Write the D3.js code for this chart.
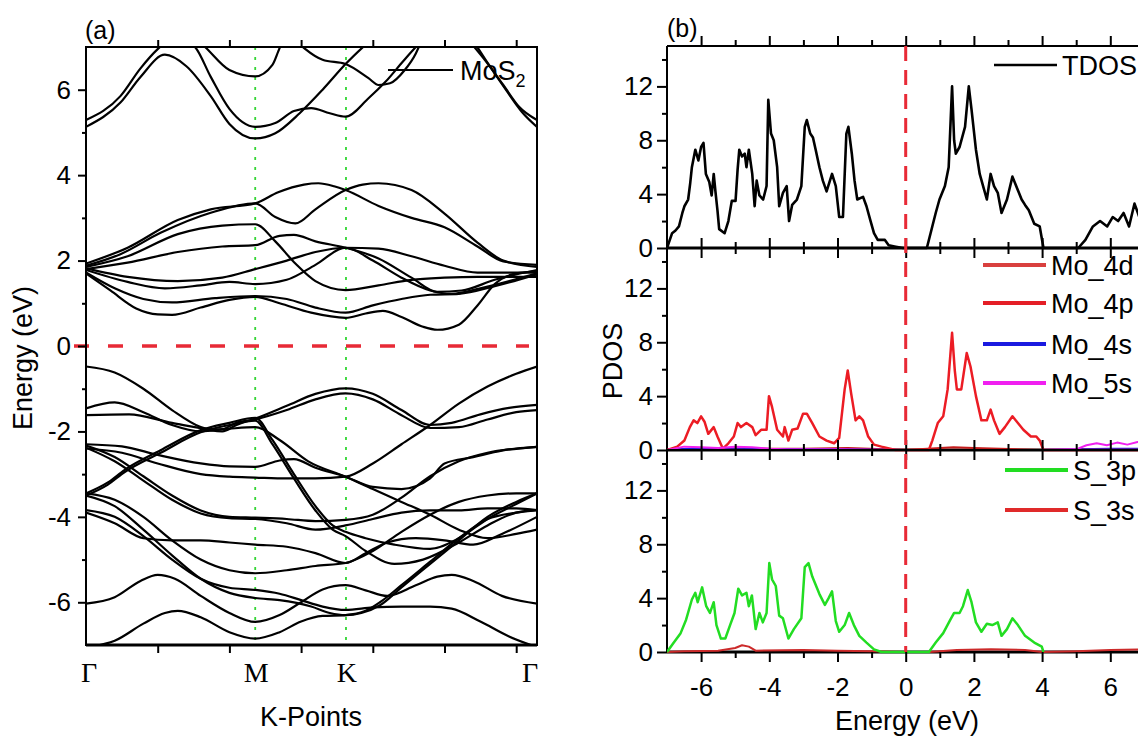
<!DOCTYPE html>
<meta charset="utf-8">
<style>
body { margin: 0; background: #fff; }
svg { display: block; }
text { font-family: Arial, "Liberation Sans", sans-serif; fill: #000; }
.axis path { display: none; }
.axis line { stroke: #000; stroke-width: 2px; }
.band { fill: none; stroke: #000; stroke-width: 2.2px; }
.sym { font-family: "Times New Roman", "Liberation Serif", serif; }
</style>
<svg width="1138" height="742"></svg>
<script src="https://d3js.org/d3.v7.min.js"></script>
<script>
// ---------- (a) band structure, [k, E] ----------
var kTicks = [0.5, 1, 1.5, 2, 2.5, 3];
var kSymbols = ["Γ", "M", "K", "Γ"];
var kSymbolPos = [0, 1.18, 1.813, 3.145];

var bandsUpper = [
  [[0,5.13],[0.24,5.7],[0.38,6.3],[0.55,6.82],[0.7,6.55],[0.87,5.85],[1.0,5.2],[1.18,4.86],[1.32,4.98],[1.49,5.45],[1.65,6.0],[1.81,6.6],[1.98,7.15]],
  [[0,5.29],[0.24,5.85],[0.38,6.5],[0.5,6.95],[0.62,7.25],[0.76,7.0],[0.87,6.3],[1.0,5.55],[1.18,5.13],[1.32,5.22],[1.45,5.5],[1.57,5.57],[1.7,5.45],[1.81,5.37],[1.97,5.8],[2.09,6.19],[2.21,6.66],[2.3,7.0],[2.36,7.2]],
  [[0.78,7.15],[0.83,7.0],[1.0,6.46],[1.18,6.31],[1.3,6.58],[1.34,6.89],[1.37,7.15]],
  [[1.45,7.2],[1.53,6.95],[1.65,6.7],[1.81,6.6],[1.97,6.27],[2.04,6.11],[2.12,6.15],[2.22,6.45],[2.3,6.85],[2.34,7.15]],
  [[2.67,7.15],[2.79,6.66],[2.91,6.11],[3.02,5.6],[3.145,5.29]],
  [[2.7,7.15],[2.81,6.58],[2.93,5.99],[3.04,5.48],[3.145,5.13]]
];

var bandsMid = [
  [[0,1.93],[0.29,2.3],[0.64,2.95],[0.87,3.2],[1.18,3.34],[1.34,3.6],[1.52,3.78],[1.62,3.81],[1.73,3.74],[1.81,3.65],[2.04,3.28],[2.27,3.0],[2.5,2.78],[2.73,2.33],[2.91,1.98],[3.145,1.9]],
  [[0,1.88],[0.24,2.15],[0.52,2.65],[0.87,3.12],[1.18,3.34],[1.32,3.02],[1.46,2.87],[1.6,3.2],[1.81,3.65],[1.93,3.78],[2.04,3.81],[2.27,3.65],[2.5,3.1],[2.73,2.42],[2.91,2.0],[3.145,1.85]],
  [[0,1.85],[0.29,2.1],[0.64,2.62],[0.95,2.82],[1.18,2.85],[1.32,2.45],[1.46,1.93],[1.6,1.52],[1.81,1.31],[2.04,1.42],[2.27,1.55],[2.5,1.6],[2.73,1.62],[3.145,1.62]],
  [[0,1.8],[0.29,1.95],[0.64,2.2],[0.95,2.33],[1.18,2.36],[1.35,2.58],[1.45,2.6],[1.6,2.45],[1.81,2.3],[2.04,2.05],[2.27,1.6],[2.45,1.27],[2.62,1.3],[2.85,1.55],[3.145,1.78]],
  [[0,1.82],[0.29,1.62],[0.64,1.52],[0.95,1.6],[1.18,1.8],[1.4,2.0],[1.6,2.2],[1.81,2.3],[2.04,2.28],[2.27,2.1],[2.5,1.88],[2.73,1.72],[3.145,1.72]],
  [[0,1.78],[0.29,1.5],[0.55,1.35],[0.8,1.42],[1.0,1.5],[1.18,1.45],[1.4,1.55],[1.6,1.9],[1.81,2.3],[2.0,2.0],[2.2,1.6],[2.4,1.3],[2.55,1.22],[2.75,1.35],[3.145,1.7]],
  [[0,1.72],[0.2,1.35],[0.4,1.1],[0.6,1.02],[0.9,1.12],[1.18,1.17],[1.4,1.1],[1.6,0.9],[1.81,0.78],[2.0,0.95],[2.2,1.1],[2.4,1.2],[2.6,1.22],[2.85,1.4],[3.145,1.68]],
  [[0,1.7],[0.17,1.3],[0.35,0.88],[0.5,0.74],[0.6,0.73],[0.8,0.9],[1.0,1.08],[1.18,1.15],[1.35,1.0],[1.57,0.78],[1.81,0.66],[1.95,0.76],[2.07,0.82],[2.2,0.68],[2.35,0.45],[2.45,0.38],[2.6,0.5],[2.73,0.95],[2.85,1.45],[3.0,1.7],[3.145,1.75]]
];

var bandsValence = [
  [[0,-0.48],[0.2,-0.62],[0.4,-1.0],[0.6,-1.5],[0.8,-1.9],[0.95,-2.0],[1.05,-1.85],[1.18,-1.7],[1.4,-1.4],[1.6,-1.12],[1.81,-0.99],[2.0,-1.12],[2.2,-1.5],[2.4,-1.85],[2.55,-1.8],[2.75,-1.6],[2.95,-1.45],[3.145,-1.38]],
  [[0,-1.46],[0.2,-1.32],[0.4,-1.55],[0.6,-1.85],[0.8,-2.0],[0.95,-1.95],[1.05,-1.8],[1.18,-1.72],[1.4,-1.5],[1.6,-1.25],[1.81,-1.11],[2.0,-1.25],[2.2,-1.62],[2.4,-1.92],[2.6,-1.9],[2.8,-1.72],[3.0,-1.55],[3.145,-1.5]],
  [[0,-1.62],[0.3,-1.6],[0.6,-1.8],[0.9,-1.95],[1.18,-1.9],[1.35,-2.2],[1.55,-2.7],[1.81,-3.06],[2.0,-3.35],[2.2,-3.65],[2.4,-3.95],[2.6,-4.3],[2.8,-4.5],[3.0,-4.4],[3.145,-4.3]],
  [[0,-3.45],[0.15,-3.2],[0.27,-2.9],[0.52,-2.44],[0.8,-1.97],[1.0,-1.8],[1.18,-1.68],[1.3,-2.2],[1.45,-3.0],[1.6,-3.75],[1.72,-4.2],[1.81,-4.35],[1.95,-4.5],[2.15,-4.65],[2.4,-4.75],[2.6,-4.5],[2.8,-4.05],[3.0,-3.7],[3.145,-3.45]],
  [[0,-3.5],[0.15,-3.25],[0.27,-2.95],[0.52,-2.5],[0.8,-2.02],[1.0,-1.85],[1.18,-1.75],[1.3,-2.3],[1.45,-3.1],[1.6,-3.85],[1.72,-4.3],[1.81,-4.45],[1.95,-4.8],[2.15,-5.1],[2.35,-5.0],[2.6,-4.6],[2.8,-4.2],[3.0,-3.9],[3.145,-3.84]],
  [[0,-2.3],[0.25,-2.35],[0.5,-2.55],[0.8,-2.75],[1.0,-2.82],[1.18,-2.83],[1.35,-2.68],[1.45,-2.65],[1.6,-2.85],[1.81,-3.06],[2.0,-3.3],[2.2,-3.35],[2.4,-3.1],[2.5,-2.75],[2.7,-2.6],[2.9,-2.45],[3.145,-2.36]],
  [[0,-2.4],[0.25,-2.5],[0.5,-2.75],[0.8,-3.0],[1.0,-3.06],[1.18,-3.08],[1.4,-3.1],[1.6,-3.1],[1.81,-3.06],[2.0,-2.75],[2.2,-2.3],[2.4,-1.85],[2.6,-1.35],[2.8,-0.95],[3.0,-0.65],[3.145,-0.48]],
  [[0,-2.33],[0.2,-2.6],[0.4,-3.05],[0.6,-3.5],[0.8,-3.85],[1.0,-4.0],[1.18,-4.02],[1.4,-4.05],[1.6,-4.1],[1.81,-4.07],[2.0,-3.95],[2.2,-3.55],[2.4,-3.05],[2.6,-2.7],[2.8,-2.5],[3.0,-2.4],[3.145,-2.36]],
  [[0,-2.38],[0.2,-2.7],[0.4,-3.15],[0.6,-3.6],[0.8,-3.92],[1.0,-4.03],[1.18,-4.05],[1.4,-4.15],[1.6,-4.3],[1.81,-4.2],[2.0,-4.05],[2.2,-3.9],[2.4,-3.85],[2.6,-3.85],[2.8,-3.8],[3.0,-3.8],[3.145,-3.84]],
  [[0,-3.45],[0.2,-3.6],[0.4,-4.0],[0.6,-4.55],[0.8,-5.0],[1.0,-5.25],[1.18,-5.32],[1.4,-5.25],[1.6,-5.15],[1.81,-5.08],[2.0,-4.8],[2.2,-4.35],[2.4,-3.95],[2.6,-3.65],[2.8,-3.5],[3.0,-3.45],[3.145,-3.45]],
  [[0,-3.84],[0.2,-4.0],[0.4,-4.45],[0.6,-5.0],[0.8,-5.45],[1.0,-5.66],[1.18,-5.71],[1.35,-5.8],[1.5,-5.95],[1.65,-6.1],[1.81,-6.18],[2.0,-6.12],[2.2,-6.1],[2.4,-6.1],[2.55,-6.15],[2.75,-6.45],[2.95,-6.8],[3.145,-7.05]],
  [[0,-3.5],[0.2,-3.75],[0.4,-4.3],[0.6,-4.9],[0.8,-5.45],[1.0,-5.78],[1.18,-5.9],[1.35,-5.95],[1.57,-6.1],[1.7,-6.25],[1.81,-6.3],[1.92,-6.25],[2.05,-6.07],[2.2,-5.65],[2.4,-5.1],[2.6,-4.55],[2.8,-4.0],[3.0,-3.65],[3.145,-3.45]],
  [[0,-3.9],[0.2,-4.15],[0.4,-4.5],[0.6,-4.55],[0.8,-4.55],[1.0,-4.6],[1.18,-4.65],[1.4,-4.7],[1.6,-4.85],[1.81,-5.08],[1.95,-4.85],[2.1,-4.6],[2.3,-4.5],[2.5,-4.55],[2.7,-4.65],[2.9,-4.4],[3.145,-4.0]],
  [[0,-7.05],[0.2,-6.9],[0.4,-6.5],[0.55,-6.25],[0.64,-6.2],[0.8,-6.35],[1.0,-6.7],[1.18,-6.85],[1.35,-6.7],[1.5,-6.45],[1.65,-6.32],[1.81,-6.3],[1.95,-6.2],[2.05,-6.0],[2.2,-5.6],[2.4,-5.05],[2.6,-4.5],[2.8,-4.05],[3.0,-3.9],[3.145,-3.84]],
  [[0,-6.03],[0.2,-5.88],[0.38,-5.5],[0.5,-5.36],[0.62,-5.45],[0.8,-5.85],[1.0,-6.25],[1.18,-6.46],[1.35,-6.3],[1.5,-6.0],[1.65,-5.7],[1.81,-5.6],[1.95,-5.72],[2.1,-5.85],[2.3,-5.6],[2.45,-5.4],[2.55,-5.36],[2.7,-5.5],[2.9,-5.85],[3.145,-6.03]]
];

// ---------- (b) density of states, [E, DOS] ----------
var tdos = [[-7.0,0],[-6.85,1.1],[-6.75,1.3],[-6.65,1.6],[-6.55,2.6],[-6.49,3.1],[-6.38,3.6],[-6.32,4.8],[-6.27,6.0],[-6.17,7.3],[-6.08,6.5],[-6.0,7.5],[-5.93,7.8],[-5.86,5.5],[-5.76,4.9],[-5.69,3.9],[-5.63,5.5],[-5.58,4.2],[-5.52,2.8],[-5.47,1.4],[-5.31,1.1],[-5.2,2.0],[-5.1,3.5],[-4.99,3.5],[-4.93,5.8],[-4.88,7.3],[-4.8,6.8],[-4.72,7.0],[-4.67,6.0],[-4.6,7.3],[-4.5,5.5],[-4.43,3.1],[-4.37,5.0],[-4.29,3.9],[-4.18,3.6],[-4.08,4.6],[-4.03,11.0],[-3.95,8.5],[-3.87,8.0],[-3.77,6.0],[-3.71,3.1],[-3.6,4.1],[-3.49,4.6],[-3.42,2.0],[-3.33,3.2],[-3.19,3.6],[-3.06,4.6],[-2.96,9.0],[-2.9,9.5],[-2.8,8.5],[-2.72,8.2],[-2.64,7.3],[-2.53,6.0],[-2.43,5.0],[-2.32,4.2],[-2.16,5.5],[-2.05,4.6],[-1.95,2.3],[-1.84,2.3],[-1.74,8.5],[-1.68,9.0],[-1.58,7.0],[-1.5,5.0],[-1.42,3.6],[-1.25,3.8],[-1.15,3.1],[-1.03,2.0],[-0.93,1.1],[-0.82,0.6],[-0.61,0.6],[-0.5,0.2],[-0.29,0.1],[-0.08,0],[0.62,0],[0.78,1.6],[0.88,2.6],[0.99,3.6],[1.15,4.6],[1.26,6.0],[1.36,12.0],[1.42,8.0],[1.47,7.0],[1.58,7.5],[1.74,9.0],[1.85,12.0],[1.93,10.3],[2.06,7.3],[2.17,5.5],[2.27,4.6],[2.38,3.6],[2.49,5.5],[2.59,4.6],[2.7,4.1],[2.81,2.6],[2.97,3.6],[3.13,5.3],[3.24,4.6],[3.4,3.6],[3.5,3.2],[3.61,2.8],[3.77,1.8],[3.93,1.6],[4.04,0],[5.06,0],[5.27,0.6],[5.49,1.6],[5.7,2.0],[5.91,1.6],[6.07,2.3],[6.23,2.0],[6.39,2.6],[6.55,1.6],[6.71,3.3],[6.85,2.3],[7.0,2.6],[7.2,2.0],[7.4,2.4]];

var mo4d = [[-7.0,0],[-6.7,0.25],[-6.49,0.7],[-6.33,1.7],[-6.22,2.2],[-6.11,2.0],[-6.0,2.5],[-5.9,2.1],[-5.79,1.2],[-5.63,1.7],[-5.52,1.0],[-5.36,0.1],[-5.2,0.5],[-5.04,1.0],[-4.93,2.0],[-4.83,1.7],[-4.67,2.0],[-4.5,1.7],[-4.4,1.1],[-4.24,1.5],[-4.08,1.5],[-4.01,4.0],[-3.92,3.2],[-3.77,1.5],[-3.6,1.0],[-3.55,1.7],[-3.44,0.7],[-3.33,1.5],[-3.17,1.6],[-3.01,2.7],[-2.9,2.7],[-2.74,2.0],[-2.53,1.0],[-2.32,0.7],[-2.1,0.5],[-1.95,0.9],[-1.79,4.5],[-1.7,5.9],[-1.6,4.2],[-1.47,2.2],[-1.36,2.5],[-1.25,2.2],[-1.1,1.0],[-0.93,0.4],[-0.71,0.25],[-0.3,0],[0.68,0],[0.78,0.7],[0.94,2.0],[1.1,2.5],[1.23,4.5],[1.36,8.7],[1.44,5.9],[1.5,4.5],[1.63,4.5],[1.79,7.2],[1.9,6.2],[2.06,4.0],[2.22,2.2],[2.38,2.2],[2.49,3.0],[2.59,2.2],[2.75,1.2],[2.91,1.7],[3.13,2.5],[3.29,2.0],[3.45,1.5],[3.67,1.0],[3.83,1.0],[3.93,0.7],[4.04,0],[7.5,0]];
var mo4p = [[-7,0],[-6,0.1],[-4.8,0.15],[-4,0.1],[-3,0.1],[-1.7,0.15],[0,0],[1.4,0.2],[2,0.15],[4,0],[7.5,0]];
var mo4s = [[-7,0],[-6.5,0.08],[-5,0.06],[-4,0.08],[-2,0.05],[0,0],[4,0],[5,0.05],[6,0.1],[7.5,0.1]];
var mo5s = [[-7,0],[-6.8,0.1],[-6.5,0.25],[-6.0,0.2],[-5.5,0.15],[-5.0,0.25],[-4.5,0.2],[-4.0,0.1],[-3.5,0.05],[-3,0.05],[-2,0.05],[-1,0.02],[0,0],[4,0],[5.0,0.05],[5.3,0.35],[5.6,0.5],[5.9,0.35],[6.2,0.55],[6.5,0.4],[6.8,0.6],[7.1,0.45],[7.5,0.5]];
var s3p = [[-7.0,0],[-6.8,0.7],[-6.6,1.4],[-6.44,2.4],[-6.27,3.9],[-6.17,4.4],[-6.1,3.7],[-5.97,4.8],[-5.85,3.4],[-5.74,2.9],[-5.63,3.7],[-5.55,2.0],[-5.42,1.0],[-5.29,1.0],[-5.15,2.0],[-5.02,2.9],[-4.91,4.7],[-4.8,4.2],[-4.67,4.4],[-4.6,3.4],[-4.51,4.2],[-4.4,1.7],[-4.29,2.9],[-4.19,2.2],[-4.08,2.9],[-4.0,6.6],[-3.92,5.4],[-3.81,4.9],[-3.71,2.7],[-3.6,2.5],[-3.44,1.0],[-3.28,1.7],[-3.06,2.5],[-2.96,6.3],[-2.85,6.6],[-2.74,5.6],[-2.53,4.3],[-2.37,3.5],[-2.26,4.0],[-2.16,4.5],[-2.05,2.3],[-1.95,1.5],[-1.79,2.0],[-1.66,2.9],[-1.52,2.0],[-1.36,1.2],[-1.15,0.7],[-0.93,0.2],[-0.71,0],[0.68,0],[0.88,0.7],[1.1,1.4],[1.31,2.4],[1.42,2.9],[1.58,2.9],[1.68,3.4],[1.82,4.6],[1.93,3.7],[2.06,2.2],[2.22,1.5],[2.38,2.1],[2.54,2.0],[2.7,2.2],[2.81,1.2],[2.97,1.7],[3.13,2.5],[3.29,2.0],[3.5,1.2],[3.77,0.7],[3.99,0.4],[4.04,0]];
var s3s = [[-7,0],[-6.5,0.05],[-5.5,0.1],[-5.0,0.3],[-4.8,0.5],[-4.6,0.4],[-4.4,0.1],[-3.0,0.15],[-2.0,0.1],[-1,0.05],[0,0],[0.7,0],[1.5,0.15],[2.5,0.2],[3.5,0.15],[4,0],[5,0.05],[6,0.15],[7,0.2],[7.5,0.2]];

var eTicks = [-6, -4, -2, 0, 2, 4, 6];
var moNames = ["Mo_4d", "Mo_4p", "Mo_4s", "Mo_5s"];
var sNames = ["S_3p", "S_3s"];

var svg = d3.select("svg");
svg.append("rect").attr("width", 1138).attr("height", 742).attr("fill", "#fff");

// ================= panel (a) =================
var xA = d3.scaleLinear().domain([0, 3.145]).range([86, 537]),
    yA = d3.scaleLinear().domain([-7, 7]).range([645, 47]);

svg.append("clipPath").attr("id", "clipA").append("rect")
    .attr("x", 86).attr("y", 47).attr("width", 451).attr("height", 598);

var bandLine = d3.line()
    .x(d => xA(d[0]))
    .y(d => yA(d[1]))
    .curve(d3.curveMonotoneX);

var gA = svg.append("g").attr("clip-path", "url(#clipA)");

// green dotted lines at M and K
gA.selectAll("line.symline")
    .data([kSymbolPos[1], kSymbolPos[2]])
  .enter().append("line")
    .attr("class", "symline")
    .attr("x1", d => xA(d)).attr("x2", d => xA(d))
    .attr("y1", 47).attr("y2", 645)
    .attr("stroke", "#33d633").attr("stroke-width", 1.8)
    .attr("stroke-dasharray", "3,7");

gA.selectAll("path.band")
    .data(bandsUpper.concat(bandsMid, bandsValence))
  .enter().append("path")
    .attr("class", "band")
    .attr("d", bandLine);

// Fermi level
svg.append("line")
    .attr("x1", xA(0) - 12).attr("x2", xA(3.145) - 8)
    .attr("y1", yA(0)).attr("y2", yA(0))
    .attr("stroke", "#e82a36").attr("stroke-width", 3.5)
    .attr("stroke-dasharray", "15,19");

// frame
svg.append("rect")
    .attr("x", 86).attr("y", 47).attr("width", 451).attr("height", 598)
    .attr("fill", "none").attr("stroke", "#000").attr("stroke-width", 2);
svg.append("line").attr("x1", 86).attr("x2", 537).attr("y1", 645).attr("y2", 645)
    .attr("stroke", "#000").attr("stroke-width", 3);

// axes
var axA = svg.append("g").attr("class", "axis").attr("transform", "translate(86,0)")
    .call(d3.axisLeft(yA).tickValues(d3.range(-6, 7, 2)).tickSize(8).tickPadding(7).tickFormat(d => d));
axA.attr("font-size", 26);
svg.append("g").attr("class", "axis").attr("transform", "translate(86,0)")
    .call(d3.axisLeft(yA).tickValues(d3.range(-5, 6, 2)).tickSize(4).tickFormat(""));
svg.append("g").attr("class", "axis").attr("transform", "translate(0,47)")
    .call(d3.axisTop(xA).tickValues(kTicks).tickSize(7).tickFormat(""));
svg.append("g").attr("class", "axis").attr("transform", "translate(0,645)")
    .call(d3.axisBottom(xA).tickValues(kTicks).tickSize(8).tickFormat(""));

// high symmetry labels
svg.selectAll("text.sym")
    .data(kSymbols)
  .enter().append("text")
    .attr("class", "sym")
    .attr("x", (d, i) => xA(kSymbolPos[i]) + (i == 0 ? 3 : i == 3 ? -7 : 1))
    .attr("y", 682)
    .attr("text-anchor", "middle")
    .attr("font-size", 28)
    .text(d => d);

svg.append("text").attr("x", 311).attr("y", 726).attr("text-anchor", "middle")
    .attr("font-size", 27).text("K-Points");
svg.append("text").attr("transform", "translate(32,358) rotate(-90)")
    .attr("text-anchor", "middle").attr("font-size", 27).text("Energy (eV)");
svg.append("text").attr("x", 85).attr("y", 39).attr("font-size", 25).text("(a)");

// legend (a)
svg.append("line").attr("x1", 388).attr("x2", 453).attr("y1", 70).attr("y2", 70)
    .attr("stroke", "#000").attr("stroke-width", 2.2);
var lgA = svg.append("text").attr("x", 460).attr("y", 80).attr("font-size", 27);
lgA.append("tspan").text("MoS");
lgA.append("tspan").attr("font-size", 18).attr("dy", 7).text("2");

// ================= panel (b) =================
var xB = d3.scaleLinear().domain([-7, 8]).range([667, 1178.5]);
var rowTops = [46, 248, 450], rowH = 202;

var rows = [
  {series: [tdos], colors: ["#000"], widths: [2.6], names: ["TDOS"], lx: 994, ly: [19]},
  {series: [mo4p, mo4s, mo4d, mo5s], colors: ["#c41c1c", "#1a1ae0", "#ec1c24", "#f020f0"], widths: [2, 2, 2.5, 2],
   names: moNames, legendColors: ["#d9403e", "#e41e26", "#1a1ae0", "#f020f0"], lx: 983, ly: [17, 55, 96, 135]},
  {series: [s3s, s3p], colors: ["#cc2a2a", "#22dd22"], widths: [2, 2.5],
   names: sNames, legendColors: ["#22dd22", "#e02a2a"], lx: 1005, ly: [20, 60]}
];

rows.forEach(function(row, r) {
  var top = rowTops[r], bottom = top + rowH;
  var y = d3.scaleLinear().domain([0, 15]).range([bottom, top]);

  // frame lines first so the near-zero curves stay visible on the axis
  svg.append("line").attr("x1", 667).attr("x2", 1138).attr("y1", top).attr("y2", top)
      .attr("stroke", "#000").attr("stroke-width", 2);
  svg.append("line").attr("x1", 667).attr("x2", 1138).attr("y1", bottom).attr("y2", bottom)
      .attr("stroke", "#000").attr("stroke-width", 3);
  svg.append("line").attr("x1", 667).attr("x2", 667).attr("y1", top).attr("y2", bottom)
      .attr("stroke", "#000").attr("stroke-width", 2);

  svg.append("clipPath").attr("id", "clipB" + r).append("rect")
      .attr("x", 667).attr("y", top).attr("width", 520).attr("height", rowH + 2);

  var line = d3.line().x(d => xB(d[0])).y(d => y(d[1]));
  var g = svg.append("g").attr("clip-path", "url(#clipB" + r + ")");
  row.series.forEach(function(s, i) {
    g.append("path").datum(s)
        .attr("fill", "none")
        .attr("stroke", row.colors[i])
        .attr("stroke-width", row.widths[i])
        .attr("stroke-linejoin", "round")
        .attr("d", line);
  });

  var ax = svg.append("g").attr("class", "axis").attr("transform", "translate(667,0)")
      .call(d3.axisLeft(y).tickValues([0, 4, 8, 12]).tickSize(10).tickPadding(4).tickFormat(d => d));
  ax.attr("font-size", 26);
  svg.append("g").attr("class", "axis").attr("transform", "translate(667,0)")
      .call(d3.axisLeft(y).tickValues([2, 6, 10, 14]).tickSize(5).tickFormat(""));

  svg.append("g").attr("class", "axis").attr("transform", "translate(0," + top + ")")
      .call(d3.axisTop(xB).tickValues(eTicks).tickSize(10).tickFormat(""));
  svg.append("g").attr("class", "axis").attr("transform", "translate(0," + top + ")")
      .call(d3.axisTop(xB).tickValues(d3.range(-5, 8, 2)).tickSize(6).tickFormat(""));
  var bx = svg.append("g").attr("class", "axis").attr("transform", "translate(0," + bottom + ")")
      .call(d3.axisBottom(xB).tickValues(eTicks).tickSize(10).tickPadding(16)
        .tickFormat(r == 2 ? (d => d) : ""));
  bx.attr("font-size", 26);
  svg.append("g").attr("class", "axis").attr("transform", "translate(0," + bottom + ")")
      .call(d3.axisBottom(xB).tickValues(d3.range(-5, 8, 2)).tickSize(6).tickFormat(""));

  // legend
  row.names.forEach(function(name, i) {
    var ly = top + row.ly[i];
    svg.append("line")
        .attr("x1", row.lx).attr("x2", row.lx + 63)
        .attr("y1", ly).attr("y2", ly)
        .attr("stroke", (row.legendColors || row.colors)[i])
        .attr("stroke-width", r == 0 ? 2.6 : 3.8);
    svg.append("text")
        .attr("x", row.lx + 68).attr("y", ly + 10)
        .attr("font-size", 27)
        .text(name);
  });
});

// Fermi level in (b)
svg.append("line")
    .attr("x1", xB(0)).attr("x2", xB(0))
    .attr("y1", 46).attr("y2", 652)
    .attr("stroke", "#e82a36").attr("stroke-width", 3)
    .attr("stroke-dasharray", "15,9");

svg.append("text").attr("x", 907).attr("y", 730).attr("text-anchor", "middle")
    .attr("font-size", 27).text("Energy (eV)");
svg.append("text").attr("transform", "translate(622,361) rotate(-90)")
    .attr("text-anchor", "middle").attr("font-size", 27).text("PDOS");
svg.append("text").attr("x", 667).attr("y", 37).attr("font-size", 25).text("(b)");
</script>
